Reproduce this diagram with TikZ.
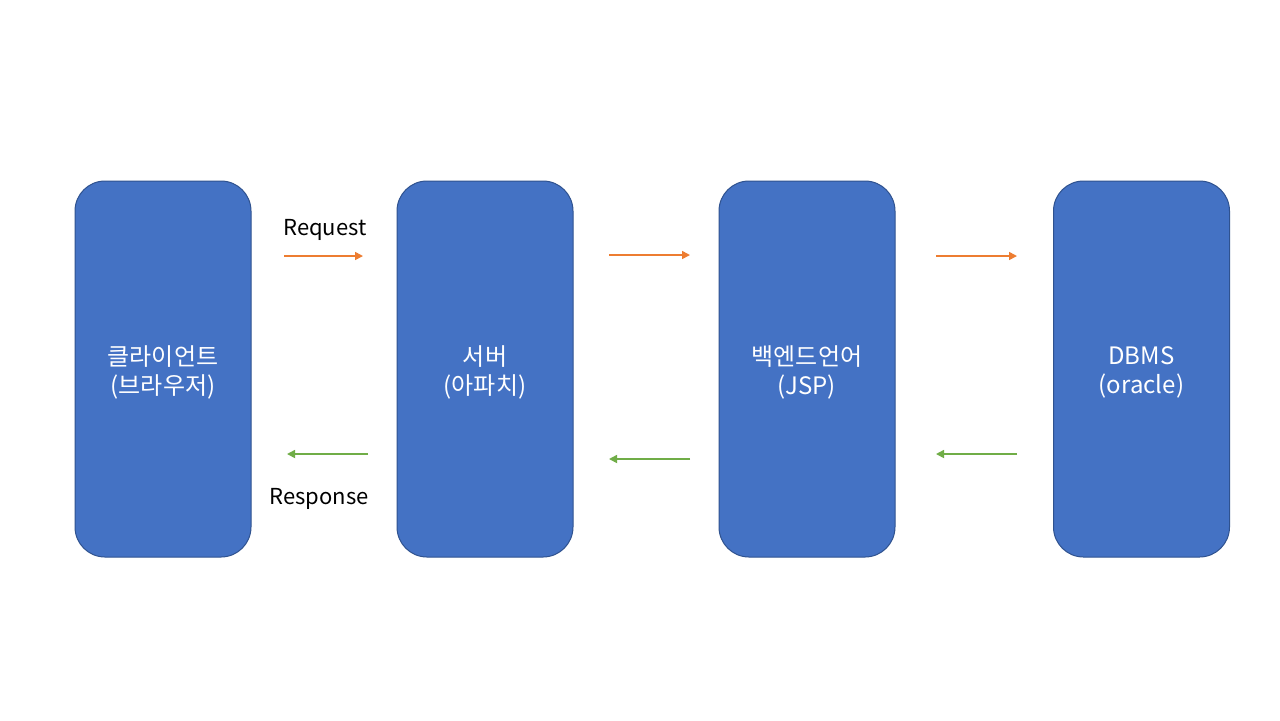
\documentclass[tikz,border=0pt]{standalone}
\usepackage{fontspec}
\setmainfont{Noto Sans CJK KR}
\usetikzlibrary{arrows.meta}
\definecolor{boxfill}{HTML}{4472C4}
\definecolor{boxline}{HTML}{2F528F}
\definecolor{reqc}{HTML}{ED7D31}
\definecolor{resc}{HTML}{70AD47}
\begin{document}
\begin{tikzpicture}[x=0.5pt,y=-0.5pt,
  tier/.style={draw=boxline, line width=0.5pt, fill=boxfill, rounded corners=15pt,
    minimum width=88pt, minimum height=188pt, inner sep=0pt, text=white, align=center,
    font=\fontsize{12pt}{14.5pt}\selectfont},
  reqarrow/.style={draw=reqc, line width=0.8pt, -{Triangle[length=4pt,width=4pt]}},
  resarrow/.style={draw=resc, line width=0.8pt, -{Triangle[length=4pt,width=4pt]}},
  lbl/.style={font=\fontsize{11pt}{13pt}\selectfont, text=black, inner sep=0pt},
  tiertext/.style={text=white, align=center, inner sep=0pt, font=\fontsize{12pt}{14.5pt}\selectfont}]
\useasboundingbox (0,0) rectangle (1280,720);
\fill[white] (0,0) rectangle (1280,720);
\node[tier] (client) at (163,369) {};
\node[tier] (server) at (485,369) {};
\node[tier] (backend) at (807,369) {};
\node[tier] (dbms) at (1141.5,369) {};
\node[tiertext] (clientt) at ([yshift=-1.5pt]client.center) {클라이언트\\(브라우저)};
\node[tiertext] (servert) at ([yshift=-1.5pt]server.center) {서버\\(아파치)};
\node[tiertext] (backendt) at ([yshift=-1.5pt]backend.center) {백엔드언어\\(JSP)};
\node[tiertext] (dbmst) at ([yshift=-1.5pt]dbms.center) {DBMS\\(oracle)};
% request arrows
\coordinate (r1s) at (284,256); \coordinate (r1e) at (363,256);
\coordinate (r2s) at (609,255); \coordinate (r2e) at (690,255);
\coordinate (r3s) at (936,256); \coordinate (r3e) at (1017,256);
\draw[reqarrow] (r1s) -- (r1e);
\draw[reqarrow] (r2s) -- (r2e);
\draw[reqarrow] (r3s) -- (r3e);
% response arrows
\coordinate (s1s) at (368,454); \coordinate (s1e) at (287,454);
\coordinate (s2s) at (690,459); \coordinate (s2e) at (609,459);
\coordinate (s3s) at (1017,454); \coordinate (s3e) at (936,454);
\draw[resarrow] (s1s) -- (s1e);
\draw[resarrow] (s2s) -- (s2e);
\draw[resarrow] (s3s) -- (s3e);
\node[lbl] (req) at (325,229.5) {Request};
\node[lbl] (res) at (319,498.5) {Response};
\end{tikzpicture}
\end{document}
